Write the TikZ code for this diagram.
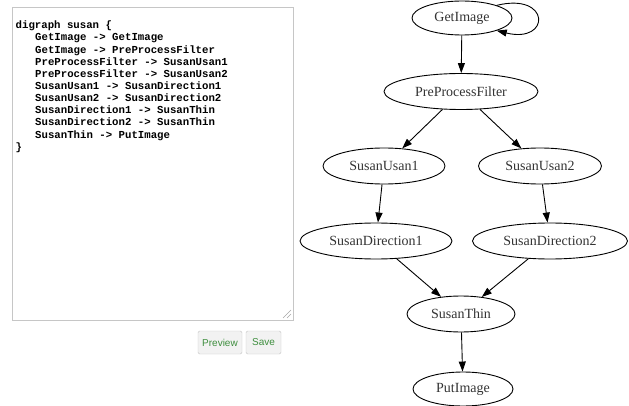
\documentclass[tikz,border=0pt]{standalone}
\usepackage{fontspec}
\setmainfont{Liberation Serif}
\setsansfont{Liberation Sans}
\setmonofont{Liberation Mono}
\usetikzlibrary{shapes.geometric,arrows.meta}

\definecolor{areaborder}{HTML}{C6C6C6}
\definecolor{btnborder}{HTML}{C4C4C4}
\definecolor{btntext}{HTML}{3E8E3E}
\definecolor{btnfill}{HTML}{F2F2F2}
\definecolor{nodetext}{HTML}{333333}

\tikzset{
    gvnode/.style={draw, ellipse, line width=0.9pt, inner sep=0pt,
        minimum height=36pt, text=nodetext,
        font=\fontsize{14}{16}\selectfont},
    gvedge/.style={line width=0.9pt, -{Triangle[length=10pt,width=7pt]}},
    codeline/.style={anchor=base west, inner sep=0pt,
        font=\ttfamily\bfseries\fontsize{10.7}{12}\selectfont},
    btn/.style={draw=btnborder, fill=btnfill, rounded corners=1.5pt,
        text=btntext, inner sep=0pt, minimum height=23pt,
        font=\sffamily\fontsize{10}{12}\selectfont}
}

\begin{document}
\begin{tikzpicture}[x=1pt, y=-1pt]
    \useasboundingbox (0,0) rectangle (629,406);

    % text area with the dot source
    \draw[areaborder, line width=0.8pt] (12,7) rectangle (293,320);
    \draw[gray!70, line width=0.6pt] (287,318) -- (291,314);
    \draw[gray!70, line width=0.6pt] (283,318) -- (291,310);
    \foreach \i/\x/\txt in {
        0/15.5/{digraph susan \{},
        1/35/{GetImage -> GetImage},
        2/35/{GetImage -> PreProcessFilter},
        3/35/{PreProcessFilter -> SusanUsan1},
        4/35/{PreProcessFilter -> SusanUsan2},
        5/35/{SusanUsan1 -> SusanDirection1},
        6/35/{SusanUsan2 -> SusanDirection2},
        7/35/{SusanDirection1 -> SusanThin},
        8/35/{SusanDirection2 -> SusanThin},
        9/35/{SusanThin -> PutImage},
        10/15.5/{\}}} {
        \node[codeline] (CODE_\i) at (\x, 28.8+12.15*\i) {\txt};
    }

    % buttons
    \node[btn, minimum width=44pt] (BTN_PREVIEW) at (220,342.5) {Preview};
    \node[btn, minimum width=35pt] (BTN_SAVE) at (263.5,342.5) {Save};

    % the graph
    \node[gvnode, minimum width=100pt, minimum height=34pt] (GET_IMAGE) at (462,18) {GetImage};
    \node[gvnode, minimum width=154pt] (PRE_FILTER) at (461,91.5) {PreProcessFilter};
    \node[gvnode, minimum width=122pt] (SUSAN_USAN1) at (384,166) {SusanUsan1};
    \node[gvnode, minimum width=123pt] (SUSAN_USAN2) at (540,166) {SusanUsan2};
    \node[gvnode, minimum width=152pt] (SUSAN_DIR1) at (376,241) {SusanDirection1};
    \node[gvnode, minimum width=155pt] (SUSAN_DIR2) at (550,241) {SusanDirection2};
    \node[gvnode, minimum width=108pt] (SUSAN_THIN) at (461,314) {SusanThin};
    \node[gvnode, minimum width=100pt, minimum height=34pt] (PUT_IMAGE) at (463,389) {PutImage};

    \draw[gvedge] (GET_IMAGE.20) .. controls (551,-8) and (551,44) .. (GET_IMAGE.-20);
    \draw[gvedge] (GET_IMAGE) -- (PRE_FILTER);
    \draw[gvedge] (PRE_FILTER) -- (SUSAN_USAN1);
    \draw[gvedge] (PRE_FILTER) -- (SUSAN_USAN2);
    \draw[gvedge] (SUSAN_USAN1) -- (SUSAN_DIR1);
    \draw[gvedge] (SUSAN_USAN2) -- (SUSAN_DIR2);
    \draw[gvedge] (SUSAN_DIR1) -- (SUSAN_THIN);
    \draw[gvedge] (SUSAN_DIR2) -- (SUSAN_THIN);
    \draw[gvedge] (SUSAN_THIN) -- (PUT_IMAGE);
\end{tikzpicture}
\end{document}
